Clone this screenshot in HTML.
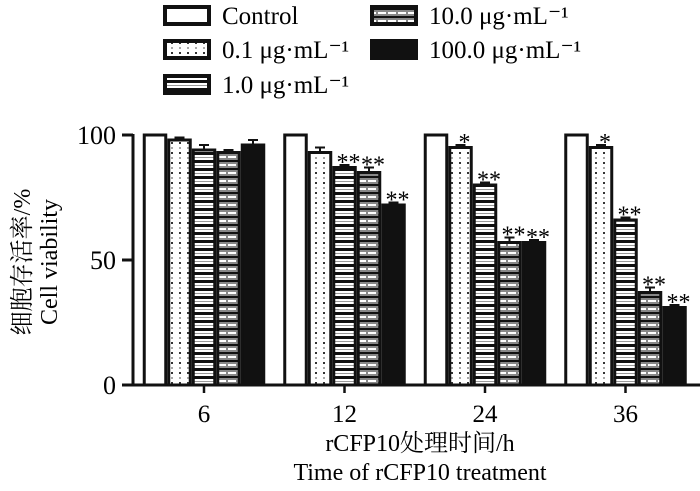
<!DOCTYPE html>
<html><head><meta charset="utf-8"><style>
body{margin:0;background:#fff;}
svg{display:block;font-family:"Liberation Serif","Noto Serif CJK SC",serif;}
</style></head><body>
<svg id="chart" width="700" height="491" viewBox="0 0 700 491">
<defs>
<pattern id="p1" width="8" height="10" patternUnits="userSpaceOnUse"><rect width="8" height="10" fill="#fff"/><rect x="3" y="2" width="2" height="2" fill="#333"/><rect x="3" y="7" width="2" height="2" fill="#aaa"/></pattern>
<pattern id="p2" width="8" height="8" patternUnits="userSpaceOnUse"><rect width="8" height="8" fill="#fff"/><rect y="0" width="8" height="3" fill="#111"/><rect y="5" width="8" height="1" fill="#999"/></pattern>
<pattern id="p3" width="10" height="8" patternUnits="userSpaceOnUse"><rect width="10" height="8" fill="#888"/><rect y="0" width="10" height="2" fill="#111"/><rect x="0" y="4" width="6" height="2" fill="#fff"/><rect x="8" y="4" width="2" height="2" fill="#fff"/></pattern>
</defs>
<g id="legend"></g>
<g id="plot"></g>
<g>
<text transform="translate(30,262) rotate(-90)" font-size="24" text-anchor="middle">细胞存活率/%</text>
<text transform="translate(57,262) rotate(-90)" font-size="24" text-anchor="middle">Cell viability</text>
</g>
<g>
<text x="420" y="451" font-size="24" text-anchor="middle">rCFP10处理时间/h</text>
<text x="420" y="480" font-size="24" text-anchor="middle">Time of rCFP10 treatment</text>
</g>
</svg>
<script>
const categories=["6","12","24","36"];
const seriesNames=["Control","0.1 μg·mL⁻¹","1.0 μg·mL⁻¹","10.0 μg·mL⁻¹","100.0 μg·mL⁻¹"];
const s0=[100,100,100,100];
const s1=[98,93,95,95];
const s2=[94,87,80,66];
const s3=[93,85,57,37];
const s4=[96,72,57,31];
const errs=[[0,0,0,0],[1,2,1,1],[2,1,1,1],[1,2,2,2],[2,1,1,1]];
const marks=[["","","",""],["","","*","*"],["","**","**","**"],["","**","**","**"],["","**","**","**"]];
const yTicks=[0,50,100];
const series=[s0,s1,s2,s3,s4];
const fills=["#fff","url(#p1)","url(#p2)","url(#p3)","#111"];
const NS="http://www.w3.org/2000/svg";
const y0=385,yTop=135,x0=133;
const y=v=>y0-(v/100)*(y0-yTop);
const gc=i=>204+i*140.5;
const bw=24.5;
const plot=document.getElementById('plot');
function mk(t,a,p){const e=document.createElementNS(NS,t);for(const k in a)e.setAttribute(k,a[k]);(p||plot).appendChild(e);return e;}
categories.forEach((c,i)=>{
 series.forEach((s,j)=>{
  const x=gc(i)-2.5*bw+j*bw;
  const r=mk('rect',{x:x+1.5,y:y(s[i]),width:bw-3,height:y0-y(s[i]),fill:fills[j],stroke:'#111','stroke-width':3});
  
  
  const e=errs[j][i];
  if(e>0){
   const l=mk('path',{d:`M${x+bw/2} ${y(s[i])} V${y(s[i]+e)} M${x+bw/2-5} ${y(s[i]+e)} H${x+bw/2+5}`,stroke:'#111','stroke-width':2,fill:'none'});
   
   
  }
  const m=marks[j][i];
  if(m){const t=mk('text',{x:x+bw/2+4,y:y(s[i]+e)+5,'font-size':24,'text-anchor':'middle'});t.textContent=m;
   
   }
 });
 const tk=mk('line',{x1:gc(i),x2:gc(i),y1:y0,y2:y0+8,stroke:'#111','stroke-width':2.5});
 
 
 const tl=mk('text',{x:gc(i),y:y0+37,'font-size':25,'text-anchor':'middle'});tl.textContent=c;
 
 
});
const ya=mk('line',{x1:x0,x2:x0,y1:yTop-1,y2:y0+1,stroke:'#111','stroke-width':3});


const xa=mk('line',{x1:x0,x2:700,y1:y0,y2:y0,stroke:'#111','stroke-width':3});


yTicks.forEach(v=>{
 const t=mk('line',{x1:x0-11,x2:x0,y1:y(v),y2:y(v),stroke:'#111','stroke-width':3});
 
 
 const l=mk('text',{x:116,y:y(v)+9,'font-size':26,'text-anchor':'end'});l.textContent=v;
 
 
});
const lg=document.getElementById('legend');
const lpos=[[165,14],[165,48],[165,83],[372,14],[372,48]];
seriesNames.forEach((n,j)=>{
 const [lx,ly]=lpos[j];
 const r=mk('rect',{x:lx,y:ly-7,width:44,height:17,fill:fills[j],stroke:'#111','stroke-width':4},lg);
 
 
 const t=mk('text',{x:lx+57,y:ly+10,'font-size':25},lg);
 t.textContent=n;
 
 
});
</script>
</body></html>
